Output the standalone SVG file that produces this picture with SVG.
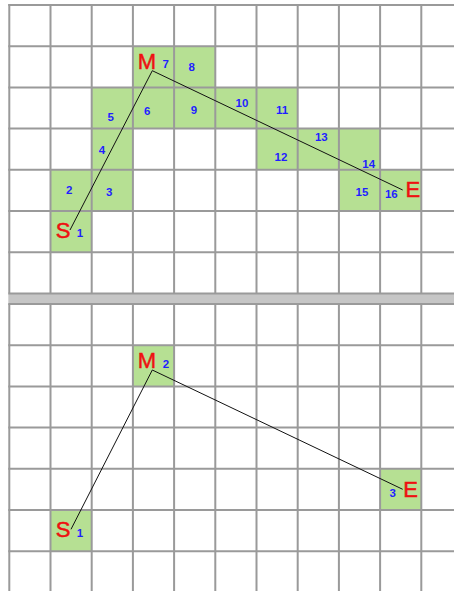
<svg xmlns="http://www.w3.org/2000/svg" width="454" height="591" viewBox="0 0 454 591">
<style>
.cell{fill:#b6e093}
.grid{stroke:#9a9a9a;stroke-width:2;fill:none}
.num{font-family:"Liberation Sans",Arial,sans-serif;font-size:11.5px;font-weight:bold;fill:#1f1fff;text-anchor:middle}
.big{font-family:"Liberation Sans",Arial,sans-serif;font-size:22px;fill:#ee1111;stroke:#ee1111;stroke-width:0.5;text-anchor:middle}
.path{stroke:#111;stroke-width:1;fill:none}
</style>
<rect x="0" y="0" width="454" height="591" fill="#fff"/>
<g id="top-cells">
<g id="c1"><rect class="cell" x="50.5" y="211" width="41.2" height="41.2"/><text class="big" x="63" y="237.5">S</text><text class="num" x="80" y="237.2">1</text></g>
<g id="c2"><rect class="cell" x="50.5" y="169.8" width="41.2" height="41.2"/><text class="num" x="69.3" y="193.8">2</text></g>
<g id="c3"><rect class="cell" x="91.7" y="169.8" width="41.2" height="41.2"/><text class="num" x="109.3" y="196.2">3</text></g>
<g id="c4"><rect class="cell" x="91.7" y="128.6" width="41.2" height="41.2"/><text class="num" x="102" y="154">4</text></g>
<g id="c5"><rect class="cell" x="91.7" y="87.4" width="41.2" height="41.2"/><text class="num" x="110.7" y="120.5">5</text></g>
<g id="c6"><rect class="cell" x="132.9" y="87.4" width="41.2" height="41.2"/><text class="num" x="147.3" y="115.2">6</text></g>
<g id="c7"><rect class="cell" x="132.9" y="46.2" width="41.2" height="41.2"/><text class="big" x="147" y="69.3">M</text><text class="num" x="165.7" y="67.8">7</text></g>
<g id="c8"><rect class="cell" x="174.1" y="46.2" width="41.2" height="41.2"/><text class="num" x="191.7" y="71.2">8</text></g>
<g id="c9"><rect class="cell" x="174.1" y="87.4" width="41.2" height="41.2"/><text class="num" x="194" y="113.5">9</text></g>
<g id="c10"><rect class="cell" x="215.3" y="87.4" width="41.2" height="41.2"/><text class="num" x="242" y="107.2">10</text></g>
<g id="c11"><rect class="cell" x="256.5" y="87.4" width="41.2" height="41.2"/><text class="num" x="282" y="113.5">11</text></g>
<g id="c12"><rect class="cell" x="256.5" y="128.6" width="41.2" height="41.2"/><text class="num" x="281" y="160.5">12</text></g>
<g id="c13"><rect class="cell" x="297.7" y="128.6" width="41.2" height="41.2"/><text class="num" x="321.3" y="141.2">13</text></g>
<g id="c14"><rect class="cell" x="338.9" y="128.6" width="41.2" height="41.2"/><text class="num" x="368.7" y="167.8">14</text></g>
<g id="c15"><rect class="cell" x="338.9" y="169.8" width="41.2" height="41.2"/><text class="num" x="362" y="195.5">15</text></g>
<g id="c16"><rect class="cell" x="380.1" y="169.8" width="41.2" height="41.2"/><text class="num" x="391.3" y="197.8">16</text><text class="big" x="412.8" y="197.3">E</text></g>
</g>
<g id="bottom-cells">
<g id="b1"><rect class="cell" x="50.5" y="510" width="41.2" height="41.2"/><text class="big" x="63" y="536.5">S</text><text class="num" x="80" y="537.2">1</text></g>
<g id="b2"><rect class="cell" x="132.9" y="345.2" width="41.2" height="41.2"/><text class="big" x="147" y="368.3">M</text><text class="num" x="166" y="367.8">2</text></g>
<g id="b3"><rect class="cell" x="380.1" y="468.8" width="41.2" height="41.2"/><text class="num" x="392.7" y="496.8">3</text><text class="big" x="410.7" y="496.7">E</text></g>
</g>
<rect x="8.3" y="293.4" width="446" height="10.6" fill="#c6c6c6"/>
<path class="grid" d="M8.3 5H454M8.3 46.2H454M8.3 87.4H454M8.3 128.6H454M8.3 169.8H454M8.3 211H454M8.3 252.2H454M8.3 293.4H454M8.3 304H454M8.3 345.2H454M8.3 386.4H454M8.3 427.6H454M8.3 468.8H454M8.3 510H454M8.3 551.2H454"/>
<path class="grid" d="M9.3 4V293.4M50.5 4V293.4M91.7 4V293.4M132.9 4V293.4M174.1 4V293.4M215.3 4V293.4M256.5 4V293.4M297.7 4V293.4M338.9 4V293.4M380.1 4V293.4M421.3 4V293.4M9.3 304V591M50.5 304V591M91.7 304V591M132.9 304V591M174.1 304V591M215.3 304V591M256.5 304V591M297.7 304V591M338.9 304V591M380.1 304V591M421.3 304V591"/>
<g id="connectors">
<polyline class="path" points="70,230 152.3,70.7 402.7,190"/>
<polyline class="path" points="71,529.3 152.3,370 402.7,489.3"/>
</g>
</svg>
